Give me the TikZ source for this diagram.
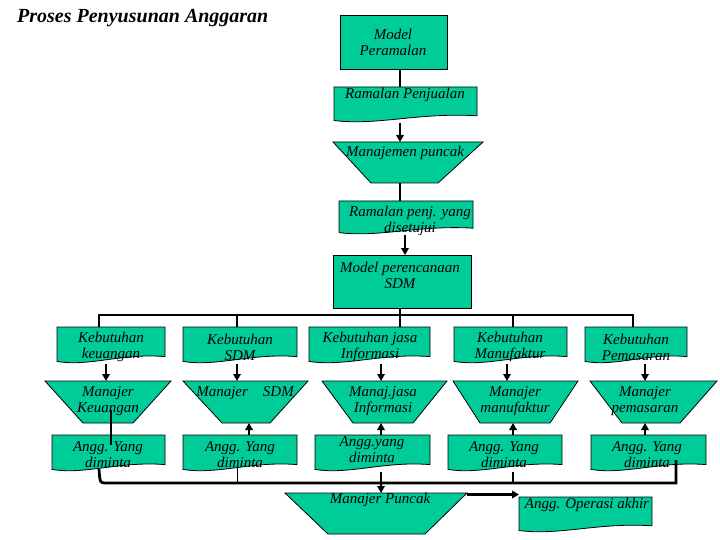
\documentclass[tikz,border=0pt]{standalone}
\usepackage{fontspec}
\setmainfont{Liberation Serif}
\usetikzlibrary{calc,arrows.meta}
\definecolor{tealg}{RGB}{0,204,153}
\pgfdeclarelayer{bg}
\pgfsetlayers{bg,main}
\tikzset{
  shp/.style={fill=tealg,draw=black,line width=0.8pt},
  con/.style={line width=2.8pt,line join=miter},
  thinl/.style={line width=0.8pt},
  arr/.style={con,-{Triangle[length=7pt,width=7.5pt]}},
  lbl/.style={font=\fontsize{15}{16}\selectfont\itshape,align=center,inner sep=0pt},
  box/.style={inner sep=0pt,outer sep=0pt,anchor=north west}
}
\newcommand\docbox[5]{%
  \pgfmathsetmacro\dw{#4-#2}\pgfmathsetmacro\dh{#5-#3}%
  \node[box,minimum width=\dw pt,minimum height=\dh pt] (#1) at (#2,#3) {};
  \filldraw[shp] (#1.north west) -- (#1.north east) -- ([yshift={0.2*\dh}]#1.south east)
    .. controls ([xshift={0.6*\dw},yshift={0.3*\dh}]#1.south west) and ([xshift={0.3*\dw},yshift={-0.08*\dh}]#1.south west)
    .. ([yshift={0.07*\dh}]#1.south west) -- cycle;
}
\newcommand\rectbox[5]{%
  \pgfmathsetmacro\dw{#4-#2}\pgfmathsetmacro\dh{#5-#3}%
  \node[box,shp,minimum width=\dw pt,minimum height=\dh pt] (#1) at (#2,#3) {};
}
\newcommand\trapbox[7]{%
  \pgfmathsetmacro\dw{#3-#2}\pgfmathsetmacro\dh{#7-#4}%
  \node[box,minimum width=\dw pt,minimum height=\dh pt] (#1) at (#2,#4) {};
  \filldraw[shp] (#2,#4) -- (#3,#4) -- (#6,#7) -- (#5,#7) -- cycle;
}
\begin{document}
\begin{tikzpicture}[x=1pt,y=-1pt]
\useasboundingbox (0,0) rectangle (720,540);
\node[anchor=west,inner sep=0pt,font=\fontsize{20}{22}\selectfont\bfseries\itshape] (title) at (17,18) {Proses Penyusunan Anggaran};

% spine
\rectbox{mp}{340}{15}{447}{69}
\docbox{rp}{334}{87}{477}{123}
\trapbox{mjp}{333}{483}{142}{371}{438}{183}
\docbox{rps}{339}{201}{473}{235}
\rectbox{mps}{333}{255}{471}{308}

% top row
\docbox{kb1}{57}{327}{165}{364}
\docbox{kb2}{183}{327}{297}{364}
\docbox{kb3}{309}{327}{430}{364}
\docbox{kb4}{454}{327}{567}{364}
\docbox{kb5}{585}{327}{687}{364}

% managers
\trapbox{mg1}{45}{171}{381}{83}{133}{423}
\trapbox{mg2}{183}{308}{381}{222}{270}{423}
\trapbox{mg3}{322}{447}{381}{353}{413}{423}
\trapbox{mg4}{453}{578}{381}{480}{550}{423}
\trapbox{mg5}{590}{717}{381}{622}{680}{423}

% requested budgets
\docbox{ag1}{52}{435}{165}{472}
\docbox{ag2}{183}{435}{297}{472}
\docbox{ag3}{315}{435}{430}{472}
\docbox{ag4}{448}{435}{562}{472}
\docbox{ag5}{591}{435}{706}{472}

% bottom
\trapbox{mpk}{285}{467}{493}{328}{425}{534}
\docbox{oa}{519}{497}{652}{533}

% texts
\node[lbl] (mp-t) at (393,42) {Model\\Peramalan};
\node[lbl] (rp-t) at (405,95) {Ramalan Penjualan};
\node[lbl] (mjp-t) at (405,153) {Manajemen puncak};
\node[lbl] (rps-t) at (410,221) {Ramalan penj. yang\\disetujui};
\node[lbl] (mps-t) at (400,275) {Model perencanaan\\SDM};

\node[lbl] (kb1-t) at (111,347) {Kebutuhan\\keuangan};
\node[lbl] (kb2-t) at (240,347) {Kebutuhan\\SDM};
\node[lbl] (kb3-t) at (370,347) {Kebutuhan jasa\\Informasi};
\node[lbl] (kb4-t) at (510,347) {Kebutuhan\\Manufaktur};
\node[lbl] (kb5-t) at (636,347) {Kebutuhan\\Pemasaran};

\node[lbl] (mg1-t) at (108,401) {Manajer\\Keuangan};
\node[lbl] (mg2-t) at (245,393) {Manajer\quad SDM};
\node[lbl] (mg3-t) at (383,401) {Manaj.jasa\\Informasi};
\node[lbl] (mg4-t) at (515,401) {Manajer\\manufaktur};
\node[lbl] (mg5-t) at (645,401) {Manajer\\pemasaran};

\node[lbl] (ag1-t) at (108,455) {Angg. Yang\\diminta};
\node[lbl] (ag2-t) at (240,455) {Angg. Yang\\diminta};
\node[lbl] (ag3-t) at (372,450) {Angg.yang\\diminta};
\node[lbl] (ag4-t) at (504,455) {Angg. Yang\\diminta};
\node[lbl] (ag5-t) at (647,455) {Angg. Yang\\diminta};

\node[lbl] (mpk-t) at (380,500) {Manajer Puncak};
\node[lbl] (oa-t) at (587,505) {Angg. Operasi akhir};

% column coordinates
\coordinate (sx) at (400,0);
\coordinate (sx2) at (405,0);
\coordinate (bus) at (0,315);
\coordinate (bb) at (0,483);
\coordinate (d1) at (99,0);
\coordinate (d2) at (237,0);
\coordinate (d4) at (513,0);
\coordinate (d5) at (633,0);
\coordinate (e1) at (106,0);
\coordinate (e3) at (381,0);
\coordinate (e4) at (507,0);
\coordinate (e5) at (645,0);
\coordinate (f1) at (111,0);
\coordinate (f2) at (249,0);
\coordinate (g1) at (99,0);
\coordinate (h1) at (106,0);
\coordinate (g5) at (676,0);
\coordinate (pk) at ($(mpk.north east)+(0,-1.5pt)$);

\begin{pgfonlayer}{bg}
\draw[con] (sx |- mp.south) -- (sx |- rp.north);
\draw[arr] (sx |- rp.south) -- (sx |- mjp.north);
\draw[con] (sx |- mjp.south) -- (sx |- rps.north);
\draw[arr] (sx2 |- rps.south) -- (sx2 |- mps.north);
\draw[con] (sx |- mps.south) -- (sx |- bus);
\draw[con] (d1 |- kb1.north) -- (d1 |- bus) -- (d5 |- bus) -- (d5 |- kb5.north);
\draw[con] (d2 |- bus) -- (d2 |- kb2.north);
\draw[con] (sx |- bus) -- (sx |- kb3.north);
\draw[con] (d4 |- bus) -- (d4 |- kb4.north);
\draw[arr] (e1 |- kb1.south) -- (e1 |- mg1.north);
\draw[arr] (d2 |- kb2.south) -- (d2 |- mg2.north);
\draw[arr] (e3 |- kb3.south) -- (e3 |- mg3.north);
\draw[arr] (e4 |- kb4.south) -- (e4 |- mg4.north);
\draw[arr] (e5 |- kb5.south) -- (e5 |- mg5.north);
\draw[arr] (f2 |- ag2.north) -- (f2 |- mg2.south);
\draw[arr] (e3 |- ag3.north) -- (e3 |- mg3.south);
\draw[arr] (d4 |- ag4.north) -- (d4 |- mg4.south);
\draw[arr] (e5 |- ag5.north) -- (e5 |- mg5.south);
\draw[con] (d4 |- ag4.south) -- (d4 |- bb);
\draw[arr] (e3 |- ag3.south) -- (e3 |- mpk.north);
\end{pgfonlayer}

\draw[con] ($(f1 |- ag1.north)+(0,-10pt)$) -- ($(f1 |- mg1.south)+(0,13pt)$);
\draw[con] ($(g1 |- ag1.south)+(0,3pt)$) .. controls ($(g1 |- bb)+(1pt,0)$) .. (h1 |- bb) -- (g5 |- bb) -- ($(g5 |- ag5.south)+(0,12pt)$);
\draw[thinl] ($(d2 |- ag2.south)+(0,6pt)$) -- (d2 |- bb);
\draw[arr] (pk) -- (pk -| oa.west);
\end{tikzpicture}
\end{document}
